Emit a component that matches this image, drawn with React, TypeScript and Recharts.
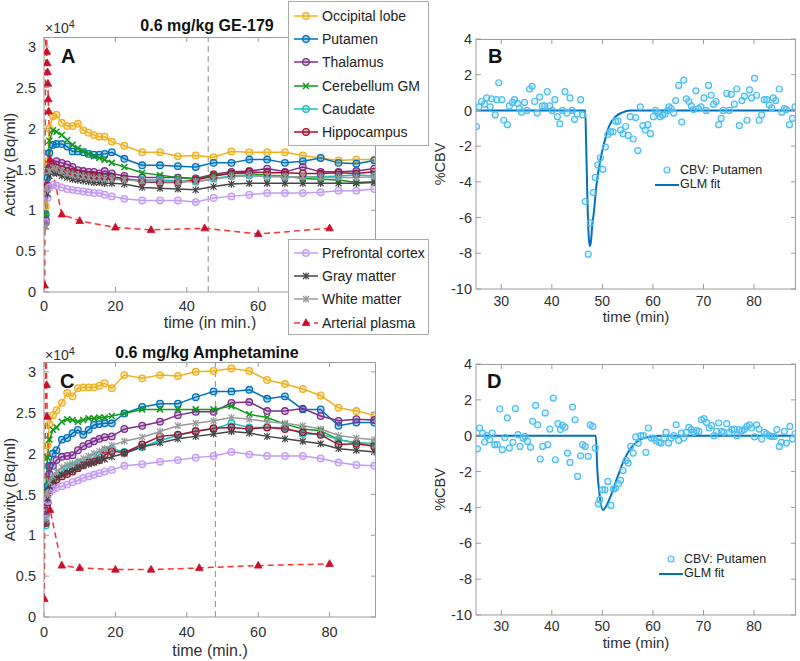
import {
  LineChart,
  ComposedChart,
  Line,
  Scatter,
  XAxis,
  YAxis,
  ReferenceLine,
  Legend,
} from "recharts";

const FONT = '"Liberation Sans", Arial, Helvetica, sans-serif';
const AXIS = "#9b9b9b";
const INK = "#303030";

// frame mid-times (min) of the brain time-activity curves
const frameTimes = [
  0.5, 1, 1.5, 2.5, 3.5, 5, 6.5, 8, 9.5, 11, 12.5, 14, 15.5, 17, 19, 22.5, 27.5,
  32.5, 37.5, 42.5, 47.5, 52.5, 57.5, 62.5, 67.5, 72.5, 77.5, 82.5, 87.5, 92.5,
];
const timeTicks = [0, 20, 40, 60, 80];
const activityTicks = [0, 0.5, 1, 1.5, 2, 2.5, 3];

// GE-179 session, activity in units of 1e4 Bq/ml
const occipitalA = [1.05, 1.6, 2.0, 2.15, 2.17, 2.07, 2.03, 2.03, 2.06, 1.98, 1.95, 1.92, 1.9, 1.9, 1.84, 1.79, 1.71, 1.71, 1.66, 1.67, 1.65, 1.72, 1.71, 1.71, 1.71, 1.67, 1.64, 1.61, 1.62, 1.62];
const putamenA = [0.95, 1.4, 1.7, 1.8, 1.81, 1.81, 1.78, 1.72, 1.72, 1.71, 1.69, 1.68, 1.68, 1.69, 1.71, 1.63, 1.55, 1.55, 1.54, 1.53, 1.58, 1.58, 1.62, 1.62, 1.58, 1.6, 1.64, 1.58, 1.57, 1.61];
const thalamusA = [0.88, 1.3, 1.52, 1.57, 1.6, 1.58, 1.56, 1.53, 1.49, 1.48, 1.47, 1.47, 1.45, 1.48, 1.45, 1.42, 1.4, 1.4, 1.4, 1.39, 1.44, 1.47, 1.48, 1.51, 1.47, 1.53, 1.47, 1.47, 1.48, 1.51];
const cerebellumA = [0.95, 1.5, 1.85, 1.98, 1.96, 1.92, 1.86, 1.8, 1.76, 1.72, 1.69, 1.66, 1.64, 1.62, 1.58, 1.53, 1.46, 1.43, 1.4, 1.38, 1.43, 1.45, 1.45, 1.43, 1.42, 1.39, 1.38, 1.37, 1.34, 1.35];
const caudateA = [0.85, 1.3, 1.48, 1.52, 1.52, 1.5, 1.47, 1.44, 1.42, 1.43, 1.42, 1.41, 1.41, 1.4, 1.4, 1.38, 1.37, 1.37, 1.36, 1.35, 1.39, 1.42, 1.43, 1.41, 1.41, 1.41, 1.41, 1.42, 1.43, 1.42];
const hippocampusA = [0.85, 1.3, 1.5, 1.53, 1.52, 1.5, 1.48, 1.47, 1.45, 1.44, 1.43, 1.42, 1.42, 1.41, 1.41, 1.39, 1.35, 1.34, 1.34, 1.37, 1.42, 1.45, 1.47, 1.46, 1.46, 1.45, 1.45, 1.46, 1.45, 1.47];
const prefrontalA = [0.85, 1.15, 1.28, 1.31, 1.3, 1.28, 1.26, 1.25, 1.24, 1.23, 1.22, 1.21, 1.21, 1.19, 1.17, 1.14, 1.12, 1.12, 1.12, 1.1, 1.15, 1.17, 1.19, 1.21, 1.21, 1.21, 1.22, 1.24, 1.24, 1.26];
const grayMatterA = [0.8, 1.2, 1.42, 1.46, 1.45, 1.42, 1.4, 1.38, 1.37, 1.36, 1.35, 1.34, 1.34, 1.33, 1.33, 1.32, 1.28, 1.27, 1.26, 1.25, 1.29, 1.32, 1.33, 1.33, 1.33, 1.33, 1.33, 1.33, 1.33, 1.34];
const whiteMatterA = [0.8, 1.25, 1.48, 1.52, 1.5, 1.48, 1.45, 1.43, 1.42, 1.41, 1.4, 1.39, 1.39, 1.38, 1.38, 1.37, 1.36, 1.35, 1.35, 1.35, 1.38, 1.41, 1.42, 1.42, 1.41, 1.41, 1.4, 1.4, 1.4, 1.41];
const plasmaTimeA = [0.2, 0.5, 0.8, 0.9, 1.0, 1.1, 1.2, 1.3, 1.7, 5, 10, 20, 30, 45, 60, 80];
const plasmaA = [0.08, 3.6, 2.94, 2.8, 2.69, 2.55, 2.36, 2.21, 1.62, 0.95, 0.87, 0.79, 0.76, 0.78, 0.71, 0.78];

// Amphetamine session, activity in units of 1e4 Bq/ml
const occipitalC = [1.5, 2.1, 2.36, 2.47, 2.53, 2.62, 2.74, 2.7, 2.8, 2.81, 2.81, 2.81, 2.83, 2.86, 2.8, 2.96, 2.92, 2.96, 2.95, 3.0, 3.01, 3.04, 3.01, 2.9, 2.85, 2.79, 2.71, 2.56, 2.52, 2.47];
const putamenC = [1.25, 1.6, 1.85, 2.0, 2.04, 2.17, 2.19, 2.25, 2.29, 2.23, 2.29, 2.35, 2.36, 2.37, 2.37, 2.49, 2.57, 2.61, 2.61, 2.69, 2.76, 2.76, 2.78, 2.67, 2.7, 2.54, 2.54, 2.34, 2.38, 2.38];
const thalamusC = [1.3, 1.55, 1.75, 1.85, 1.92, 1.96, 1.97, 1.98, 2.04, 2.09, 2.12, 2.15, 2.18, 2.2, 2.21, 2.3, 2.34, 2.39, 2.47, 2.51, 2.51, 2.62, 2.63, 2.52, 2.52, 2.55, 2.46, 2.4, 2.42, 2.41];
const cerebellumC = [1.55, 1.95, 2.17, 2.29, 2.32, 2.39, 2.42, 2.41, 2.39, 2.41, 2.43, 2.43, 2.44, 2.44, 2.46, 2.49, 2.54, 2.54, 2.54, 2.54, 2.54, 2.58, 2.48, 2.44, 2.36, 2.3, 2.28, 2.17, 2.13, 2.12];
const caudateC = [1.12, 1.4, 1.6, 1.68, 1.73, 1.78, 1.82, 1.85, 1.88, 1.89, 1.9, 1.95, 1.98, 2.04, 2.06, 2.02, 2.08, 2.16, 2.22, 2.28, 2.3, 2.37, 2.32, 2.32, 2.32, 2.24, 2.24, 2.17, 2.13, 2.12];
const hippocampusC = [1.15, 1.4, 1.55, 1.62, 1.68, 1.72, 1.75, 1.78, 1.82, 1.86, 1.89, 1.9, 1.92, 1.98, 2.03, 2.01, 2.11, 2.21, 2.23, 2.27, 2.31, 2.32, 2.3, 2.32, 2.3, 2.26, 2.23, 2.11, 2.12, 2.09];
const prefrontalC = [1.2, 1.42, 1.52, 1.56, 1.58, 1.6, 1.62, 1.65, 1.67, 1.7, 1.72, 1.74, 1.76, 1.78, 1.8, 1.85, 1.87, 1.9, 1.92, 1.95, 1.97, 2.02, 1.99, 1.97, 1.97, 1.97, 1.94, 1.89, 1.86, 1.85];
const grayMatterC = [1.15, 1.45, 1.6, 1.66, 1.7, 1.74, 1.77, 1.79, 1.82, 1.85, 1.87, 1.89, 1.91, 1.93, 1.96, 2.0, 2.08, 2.13, 2.18, 2.21, 2.24, 2.27, 2.25, 2.21, 2.18, 2.15, 2.12, 2.06, 2.04, 2.02];
const whiteMatterC = [1.2, 1.5, 1.65, 1.72, 1.78, 1.83, 1.86, 1.88, 1.91, 1.94, 1.97, 2.0, 2.03, 2.06, 2.1, 2.15, 2.2, 2.27, 2.34, 2.37, 2.4, 2.44, 2.42, 2.39, 2.37, 2.34, 2.3, 2.22, 2.19, 2.17];
const plasmaTimeC = [0.1, 0.5, 0.75, 0.9, 1.7, 5, 10, 20, 30, 43.5, 60, 80];
const plasmaC = [0.22, 3.5, 2.84, 2.45, 1.31, 0.63, 0.6, 0.58, 0.58, 0.6, 0.63, 0.65];

// CBV change in putamen (%), GE-179 session
const cbvTimeB = [
  25.1, 25.6, 26.1, 26.7, 27.1, 27.8, 28.1, 28.8, 29.1, 29.5,
  30.1, 30.5, 31.2, 31.6, 32.2, 32.6, 33.2, 33.6, 34.0, 34.6,
  35.1, 35.6, 36.1, 36.6, 37.1, 37.6, 38.1, 38.6, 39.1, 39.6,
  40.1, 40.6, 41.1, 41.6, 42.1, 42.6, 43.0, 43.6, 44.0, 44.5,
  45.0, 45.7, 46.1, 46.6, 47.2, 47.6, 48.2, 48.6, 49.1, 49.6,
  50.1, 50.6, 51.1, 51.6, 52.1, 52.6, 53.1, 53.6, 54.1, 54.6,
  55.1, 55.5, 56.1, 56.6, 57.0, 57.5, 58.0, 58.5, 59.0, 59.5,
  60.1, 60.5, 61.0, 61.4, 61.9, 62.4, 62.9, 63.2, 63.6, 64.1,
  64.5, 65.1, 65.7, 66.1, 66.6, 67.1, 67.6, 68.0, 68.5, 69.0,
  69.5, 70.1, 70.5, 71.0, 71.5, 72.0, 72.5, 73.0, 73.5, 73.9,
  74.6, 75.1, 75.5, 76.1, 76.6, 77.1, 77.6, 78.1, 78.6, 79.1,
  79.5, 80.1, 80.5, 81.0, 81.5, 82.0, 82.5, 83.0, 83.5, 83.8,
  84.3, 85.0, 85.5, 86.0, 86.4, 87.0, 87.6, 88.1,
];
const cbvB = [
  -0.9, 0.2, 0.5, 0.35, 0.7, 0.2, 0.65, -0.25, 0.6, 1.55,
  0.6, -0.55, -0.8, 0.25, 0.45, 0.6, 0.4, 0.1, -0.1, 0.45,
  0, 1.2, 1.35, 0.5, -0.15, 0.75, 0.25, 0.25, 1.05, 0.25,
  0, 0.6, -0.35, -0.75, 0, 1.05, -0.15, 0.7, 0, -0.5,
  -0.2, 0.6, -0.25, -5.1, -8.05, -6.3, -4.6, -3.75, -3.05, -2.65,
  -3.3, -2.05, -1.35, -1.2, -1.2, -0.6, -0.6, -1.1, -1.3, -0.9,
  -1.4, -0.35, -1.6, -0.4, -2.25, 0.2, -0.85, -1.1, -0.8, -1.3,
  -0.35, 0, -0.15, -0.35, -0.25, -0.2, 0, 0.2, 0.1, -0.15,
  0.55, 1.4, -0.65, 1.7, 0.65, 0.5, 0.25, 0.05, 1.1, 0.1,
  0.2, 0.7, 0, 1.4, 0.85, 0.35, 0.5, -0.8, -0.45, 0,
  0.95, 0, 0.9, 0.35, 1.2, -0.85, 0.55, 0.8, -0.55, 1.15,
  0.7, 1.8, 0.85, -0.55, -0.25, 0.6, 0.6, 0.3, 0.15, 0.7,
  0.55, 1.2, -0.1, 0.1, 0.05, -0.8, -0.45, 0.2,
];
const fitTimeB = [25, 46.6, 46.8, 47.0, 47.25, 47.5, 47.75, 48.0, 48.3, 48.8, 49.6, 50.5, 51.3, 52.6, 53.9, 55.5, 88.3];
const fitB = [0, 0, -2.0, -4.5, -6.8, -7.6, -7.3, -6.4, -5.75, -4.26, -2.77, -1.65, -0.9, -0.35, -0.12, 0, 0];

// CBV change in putamen (%), amphetamine session
const cbvTimeD = [
  25.3, 25.7, 26.3, 26.7, 27.2, 27.7, 28.2, 28.7, 29.2, 29.7,
  30.2, 30.7, 31.2, 31.6, 32.3, 32.8, 33.3, 33.7, 34.3, 34.7,
  35.2, 35.8, 36.2, 36.8, 37.2, 37.7, 38.2, 38.7, 39.2, 39.6,
  40.3, 40.7, 41.2, 41.7, 42.1, 42.6, 43.1, 43.6, 44.1, 44.6,
  45.1, 45.7, 46.1, 46.6, 47.2, 47.6, 48.1, 48.6, 49.2, 49.5,
  50.0, 50.5, 51.1, 51.7, 52.2, 52.6, 53.2, 53.6, 54.1, 54.7,
  55.1, 55.6, 56.1, 56.6, 57.1, 57.6, 58.1, 58.6, 59.1, 59.7,
  60.2, 60.6, 61.2, 61.6, 62.2, 62.6, 63.1, 63.6, 64.1, 64.6,
  65.1, 65.6, 66.1, 66.6, 67.1, 67.6, 68.1, 68.6, 69.1, 69.6,
  70.1, 70.6, 71.1, 71.6, 72.1, 72.6, 73.0, 73.6, 74.0, 74.6,
  75.1, 75.6, 76.1, 76.6, 77.1, 77.6, 78.1, 78.6, 79.1, 79.5,
  80.1, 80.5, 81.0, 81.5, 82.0, 82.5, 83.0, 83.5, 84.0, 84.5,
  85.0, 85.4, 86.0, 86.4, 87.1, 87.6, 88.1,
];
const cbvD = [
  -0.73, 0.43, 0.15, -0.35, 0, -0.22, 0.15, -0.5, -0.5, 1.49,
  -0.78, -0.1, 0.99, -0.69, -0.37, 1.51, 0.06, -0.6, -0.13, -0.04,
  -0.32, -0.65, 0.8, 1.69, 0.61, -1.3, -0.6, 1.27, -0.5, 0.37,
  2.1, -1.34, 0.67, 0.34, 0.58, 0.48, -0.97, -1.49, 1.6, 0.89,
  -2.27, -1.12, -0.5, -0.6, -1.15, 0.61, 0.52, -0.69, -3.8, -3.57,
  -3.02, -3.02, -2.55, -3.89, -2.98, -2.92, -2.68, -2.49, -1.94, -1.38,
  -1.53, -0.6, -0.97, -0.07, -0.41, 0, 0, -0.93, 0.43, -0.13,
  -0.13, -0.28, -0.37, -0.41, -0.13, 0.19, -0.41, -0.13, 0, 0.61,
  -0.26, 0.15, -0.13, 0.19, 0.47, 0.34, 0.19, 0.28, 0.24, 0.89,
  0.95, 0.74, 0.43, 0.56, 0, 0.24, 0.71, 0.24, 0.19, 0.67,
  0.19, 0.34, 0.37, 0, 0.34, 0.28, 0.34, 0.52, 0.61, 0.43,
  -0.07, 0.61, 0.37, -0.19, 0.19, 0.11, 0, -0.04, -0.04, 0.34,
  -0.6, -0.37, 0.24, -0.41, 0.52, -0.19, 0.11,
];
const fitTimeD = [25, 48.7, 49.0, 49.5, 50.1, 50.6, 51.6, 53.0, 54.3, 55.6, 56.9, 58.9, 62.0, 88.3];
const fitD = [0, 0, -1.9, -3.4, -4.15, -4.0, -3.4, -2.3, -1.35, -0.7, -0.32, -0.08, 0, 0];
const cbvTimeTicks = [30, 40, 50, 60, 70, 80];
const cbvTicks = [-10, -8, -6, -4, -2, 0, 2, 4];

type Shape = "circle" | "x" | "star" | "tri";
type Region = { name: string; color: string; marker?: string; shape: Shape; dash?: string; box: number };

const regions: Region[] = [
  { name: "Occipital lobe", color: "#EDB120", shape: "circle", box: 1 },
  { name: "Putamen", color: "#0072BD", shape: "circle", box: 1 },
  { name: "Thalamus", color: "#7E2F8E", shape: "circle", box: 1 },
  { name: "Cerebellum GM", color: "#119A1A", shape: "x", box: 1 },
  { name: "Caudate", color: "#1CBFBF", shape: "circle", box: 1 },
  { name: "Hippocampus", color: "#A2142F", shape: "circle", box: 1 },
  { name: "Prefrontal cortex", color: "#C39CF2", shape: "circle", box: 2 },
  { name: "Gray matter", color: "#454545", shape: "star", box: 2 },
  { name: "White matter", color: "#9A9A9A", shape: "star", box: 2 },
  { name: "Arterial plasma", color: "#FF3030", marker: "#C8102E", shape: "tri", dash: "6 4", box: 2 },
];

const pts = (ts: number[], vs: number[]) => ts.map((t, i) => ({ t, v: vs[i] }));

function Marker({ cx, cy, shape, color }: { cx?: number; cy?: number; shape: Shape; color: string }) {
  if (cx == null || cy == null || Number.isNaN(cx) || Number.isNaN(cy)) return null;
  const d = 3;
  if (shape === "circle")
    return <circle cx={cx} cy={cy} r={3.3} stroke={color} strokeWidth={1.3} fill={color} fillOpacity={0.3} />;
  if (shape === "x")
    return <path d={`M${cx - d} ${cy - d}L${cx + d} ${cy + d}M${cx - d} ${cy + d}L${cx + d} ${cy - d}`} stroke={color} strokeWidth={1.5} fill="none" />;
  if (shape === "star")
    return (
      <path
        d={`M${cx - d} ${cy - d}L${cx + d} ${cy + d}M${cx - d} ${cy + d}L${cx + d} ${cy - d}M${cx} ${cy - 3.6}L${cx} ${cy + 3.6}`}
        stroke={color}
        strokeWidth={1.2}
        fill="none"
      />
    );
  return <path d={`M${cx} ${cy - 4.2}L${cx + 3.8} ${cy + 2.6}L${cx - 3.8} ${cy + 2.6}Z`} fill={color} stroke={color} strokeWidth={0.8} />;
}

const dotFor = (r: Region) => (p: any) => (
  <Marker key={`d${p.index}`} cx={p.cx} cy={p.cy} shape={r.shape} color={r.marker ?? r.color} />
);

const tickStyle = { fill: INK, fontSize: 14.5, fontFamily: FONT };
const cbvTickStyle = { fill: INK, fontSize: 14, fontFamily: FONT };

// legend boxes of panel A (page pixels); the box frame is kept out of them
const legendBoxes = [
  { top: 1, height: 145, padTop: 2, group: 1 },
  { top: 239, height: 96, padTop: 1, group: 2 },
];
const LEGEND_LEFT = 288;
const LEGEND_W = 141;

function TacLegend({ payload }: any) {
  const names = new Set((payload ?? []).map((e: any) => e.value));
  const shown = regions.filter((r) => names.has(r.name));
  return (
    <>
      {legendBoxes.map((bx) => (
        <div
          key={bx.group}
          style={{
            position: "absolute",
            left: LEGEND_LEFT,
            top: bx.top,
            width: LEGEND_W,
            height: bx.height,
            boxSizing: "border-box",
            border: "1px solid #aaaaaa",
            background: "#fff",
            paddingTop: bx.padTop,
          }}
        >
          {shown
            .filter((r) => r.box === bx.group)
            .map((r) => (
              <div key={r.name} style={{ display: "flex", alignItems: "center", height: 23.3, whiteSpace: "nowrap" }}>
                <svg width={33} height={12} style={{ display: "block", flex: "none" }}>
                  <line x1={5} x2={29} y1={6} y2={6} stroke={r.color} strokeWidth={1.5} strokeDasharray={r.dash} />
                  <Marker cx={17} cy={6} shape={r.shape} color={r.marker ?? r.color} />
                </svg>
                <span style={{ fontFamily: FONT, fontSize: 14, color: "#222", lineHeight: "16px" }}>{r.name}</span>
              </div>
            ))}
        </div>
      ))}
    </>
  );
}

function CbvLegend({ left, top, gap }: { left: number; top: number; gap: number }) {
  const row = (icon: any, text: string) => (
    <div style={{ display: "flex", alignItems: "center", height: gap, whiteSpace: "nowrap" }}>
      <svg width={26} height={10} style={{ display: "block", flex: "none" }}>
        {icon}
      </svg>
      <span style={{ fontFamily: FONT, fontSize: 12.5, color: "#222", lineHeight: "13px" }}>{text}</span>
    </div>
  );
  return (
    <div style={{ position: "absolute", left, top }}>
      {row(<circle cx={13} cy={5} r={3} stroke="#4DBEEE" strokeWidth={1.2} fill="#4DBEEE" fillOpacity={0.2} />, "CBV: Putamen")}
      {row(<line x1={1} x2={25} y1={5} y2={5} stroke="#0072BD" strokeWidth={2} />, "GLM fit")}
    </div>
  );
}

type Margin = { top: number; right: number; bottom: number; left: number };

type TacProps = {
  values: number[][];
  plasmaT: number[];
  plasmaV: number[];
  injection: number;
  height: number;
  margin: Margin;
  xLabel: string;
  xHeight: number;
  tickGap: number;
  legend: boolean;
};

const tacX = [0, 93];
const tacY = [0, 3.12];

function TacChart({ values, plasmaT, plasmaV, injection, height, margin, xLabel, xHeight, tickGap, legend }: TacProps) {
  return (
    <LineChart width={440} height={height} margin={margin}>
      <XAxis
        type="number"
        dataKey="t"
        domain={tacX}
        allowDataOverflow
        ticks={timeTicks}
        interval={0}
        tickSize={-5}
        tickMargin={tickGap}
        height={xHeight}
        stroke={AXIS}
        tick={tickStyle}
        tickFormatter={(v: number) => (legend && v === 80 ? "" : String(v))}
        label={{ value: xLabel, position: "insideBottom", offset: 0, fill: INK, fontSize: 16, fontFamily: FONT }}
      />
      <YAxis
        type="number"
        domain={tacY}
        allowDataOverflow
        ticks={activityTicks}
        interval={0}
        tickSize={-5}
        tickMargin={13}
        width={44}
        stroke={AXIS}
        tick={tickStyle}
        label={{
          value: "Activity (Bq/ml)",
          angle: -90,
          position: "insideLeft",
          offset: 9,
          fill: INK,
          fontSize: 15.5,
          fontFamily: FONT,
          style: { textAnchor: "middle" },
        }}
      />
      <ReferenceLine x={injection} stroke="#8c8c8c" strokeDasharray="6 4" strokeWidth={1} />
      {regions.slice(0, 9).map((r, i) => (
        <Line
          key={r.name}
          name={r.name}
          data={pts(frameTimes, values[i])}
          dataKey="v"
          type="linear"
          stroke={r.color}
          strokeWidth={1.5}
          dot={dotFor(r)}
          activeDot={false}
          isAnimationActive={false}
        />
      ))}
      <Line
        name={regions[9].name}
        data={pts(plasmaT, plasmaV)}
        dataKey="v"
        type="linear"
        stroke={regions[9].color}
        strokeWidth={1.5}
        strokeDasharray="6 4"
        dot={dotFor(regions[9])}
        activeDot={false}
        isAnimationActive={false}
      />
      {legend && (
        <Legend
          verticalAlign="middle"
          align="center"
          layout="horizontal"
          wrapperStyle={{ left: 0, top: 0, width: 0, height: 0 }}
          content={(p: any) => <TacLegend payload={p.payload} />}
        />
      )}
    </LineChart>
  );
}

type CbvProps = {
  times: number[];
  values: number[];
  fitT: number[];
  fitV: number[];
  height: number;
  margin: Margin;
  xHeight: number;
  tickGap: number;
  legendPos: { left: number; top: number; gap: number };
};

const cbvX = [25, 88.3];
const cbvY = [-10, 4];

function CbvChart({ times, values, fitT, fitV, height, margin, xHeight, tickGap, legendPos }: CbvProps) {
  return (
    <ComposedChart width={400} height={height} margin={margin}>
      <XAxis
        type="number"
        dataKey="t"
        domain={cbvX}
        allowDataOverflow
        ticks={cbvTimeTicks}
        interval={0}
        tickSize={-5}
        tickMargin={tickGap}
        height={xHeight}
        stroke={AXIS}
        tick={cbvTickStyle}
        label={{ value: "time (min)", position: "insideBottom", offset: 0, fill: INK, fontSize: 15, fontFamily: FONT }}
      />
      <YAxis
        type="number"
        dataKey="v"
        domain={cbvY}
        allowDataOverflow
        ticks={cbvTicks}
        interval={0}
        tickSize={-5}
        tickMargin={9}
        width={76}
        stroke={AXIS}
        tick={tickStyle}
        label={{
          value: "%CBV",
          angle: -90,
          position: "insideLeft",
          offset: 40,
          fill: INK,
          fontSize: 14.5,
          fontFamily: FONT,
          style: { textAnchor: "middle" },
        }}
      />
      <Scatter
        name="CBV: Putamen"
        data={pts(times, values)}
        dataKey="v"
        fill="#4DBEEE"
        isAnimationActive={false}
        shape={(p: any) => (
          <circle cx={p.cx} cy={p.cy} r={3} stroke="#4DBEEE" strokeWidth={1.2} fill="#4DBEEE" fillOpacity={0.2} />
        )}
      />
      <Line
        name="GLM fit"
        data={pts(fitT, fitV)}
        dataKey="v"
        type="monotone"
        stroke="#0072BD"
        strokeWidth={2}
        dot={false}
        activeDot={false}
        isAnimationActive={false}
      />
      <Legend
        verticalAlign="middle"
        align="center"
        layout="horizontal"
        wrapperStyle={{ left: 0, top: 0, width: 0, height: 0 }}
        content={() => <CbvLegend {...legendPos} />}
      />
    </ComposedChart>
  );
}

// panel placement: page offset, chart size and the margins that fix each plot box
const panelA = { left: 0, top: 0, w: 440, h: 330, yw: 44, xh: 36, margin: { top: 37, right: 64, bottom: 2, left: 0 } };
const panelB = { left: 400, top: 0, w: 400, h: 330, yw: 76, xh: 33, margin: { top: 39, right: 4, bottom: 8, left: 0 } };
const panelC = { left: 0, top: 330, w: 440, h: 331, yw: 44, xh: 39, margin: { top: 32, right: 64, bottom: 5, left: 0 } };
const panelD = { left: 400, top: 330, w: 400, h: 331, yw: 76, xh: 33, margin: { top: 34, right: 4, bottom: 13, left: 0 } };

// MATLAB-style closed box: top and right edges with short inward ticks
function BoxEdges({ p, xd, yd, xt, yt, clip }: { p: typeof panelA; xd: number[]; yd: number[]; xt: number[]; yt: number[]; clip?: string }) {
  const l = p.left + p.yw;
  const r = p.left + p.w - p.margin.right;
  const t = p.top + p.margin.top;
  const b = p.top + p.h - p.margin.bottom - p.xh;
  const sx = (v: number) => l + ((v - xd[0]) / (xd[1] - xd[0])) * (r - l);
  const sy = (v: number) => b - ((v - yd[0]) / (yd[1] - yd[0])) * (b - t);
  return (
    <g stroke={AXIS} strokeWidth={1} fill="none" clipPath={clip}>
      <path d={`M${l} ${t + 0.5}H${r - 0.5}V${b}`} />
      {xt.map((v) => (
        <line key={`x${v}`} x1={sx(v)} x2={sx(v)} y1={t} y2={t + 5} />
      ))}
      {yt.map((v) => (
        <line key={`y${v}`} x1={r} x2={r - 5} y1={sy(v)} y2={sy(v)} />
      ))}
    </g>
  );
}

const txt = { fontFamily: FONT, fill: "#111" } as const;

export default function App() {
  const place = (p: typeof panelA) => ({ position: "absolute" as const, left: p.left, top: p.top });
  const holes = legendBoxes
    .map((bx) => `M${LEGEND_LEFT} ${bx.top}H${LEGEND_LEFT + LEGEND_W}V${bx.top + bx.height}H${LEGEND_LEFT}Z`)
    .join("");
  return (
    <div style={{ position: "absolute", left: 0, top: 0, width: 800, height: 661, background: "#fff", overflow: "hidden" }}>
      <div style={place(panelB)}>
        <CbvChart
          times={cbvTimeB}
          values={cbvB}
          fitT={fitTimeB}
          fitV={fitB}
          height={panelB.h}
          margin={panelB.margin}
          xHeight={panelB.xh}
          tickGap={12}
          legendPos={{ left: 254, top: 163, gap: 14.5 }}
        />
      </div>
      <div style={place(panelD)}>
        <CbvChart
          times={cbvTimeD}
          values={cbvD}
          fitT={fitTimeD}
          fitV={fitD}
          height={panelD.h}
          margin={panelD.margin}
          xHeight={panelD.xh}
          tickGap={11}
          legendPos={{ left: 258, top: 222, gap: 14.5 }}
        />
      </div>
      <div style={place(panelC)}>
        <TacChart
          values={[occipitalC, putamenC, thalamusC, cerebellumC, caudateC, hippocampusC, prefrontalC, grayMatterC, whiteMatterC]}
          plasmaT={plasmaTimeC}
          plasmaV={plasmaC}
          injection={48}
          height={panelC.h}
          margin={panelC.margin}
          xLabel="time (min.)"
          xHeight={panelC.xh}
          tickGap={15}
          legend={false}
        />
      </div>
      <div style={place(panelA)}>
        <TacChart
          values={[occipitalA, putamenA, thalamusA, cerebellumA, caudateA, hippocampusA, prefrontalA, grayMatterA, whiteMatterA]}
          plasmaT={plasmaTimeA}
          plasmaV={plasmaA}
          injection={46}
          height={panelA.h}
          margin={panelA.margin}
          xLabel="time (in min.)"
          xHeight={panelA.xh}
          tickGap={14}
          legend
        />
      </div>
      <svg width={800} height={661} style={{ position: "absolute", left: 0, top: 0, pointerEvents: "none" }}>
        <defs>
          <clipPath id="outsideLegend">
            <path d={`M0 0H800V661H0Z${holes}`} clipRule="evenodd" />
          </clipPath>
        </defs>
        <BoxEdges p={panelA} xd={tacX} yd={tacY} xt={timeTicks} yt={activityTicks} clip="url(#outsideLegend)" />
        <BoxEdges p={panelC} xd={tacX} yd={tacY} xt={timeTicks} yt={activityTicks} />
        <BoxEdges p={panelB} xd={cbvX} yd={cbvY} xt={cbvTimeTicks} yt={cbvTicks} />
        <BoxEdges p={panelD} xd={cbvX} yd={cbvY} xt={cbvTimeTicks} yt={cbvTicks} />
        <text x={207} y={31} textAnchor="middle" fontSize={16} fontWeight="bold" {...txt}>
          0.6 mg/kg GE-179
        </text>
        <text x={207} y={358} textAnchor="middle" fontSize={16} fontWeight="bold" {...txt}>
          0.6 mg/kg Amphetamine
        </text>
        <text x={45} y={33} fontSize={14} {...txt} fill={INK}>
          ×10<tspan dy={-5} fontSize={11}>4</tspan>
        </text>
        <text x={45} y={360} fontSize={14} {...txt} fill={INK}>
          ×10<tspan dy={-5} fontSize={11}>4</tspan>
        </text>
        <text x={61} y={63} fontSize={20} fontWeight="bold" {...txt}>A</text>
        <text x={488} y={63} fontSize={20} fontWeight="bold" {...txt}>B</text>
        <text x={60} y={388} fontSize={20} fontWeight="bold" {...txt}>C</text>
        <text x={487} y={388} fontSize={20} fontWeight="bold" {...txt}>D</text>
      </svg>
    </div>
  );
}
